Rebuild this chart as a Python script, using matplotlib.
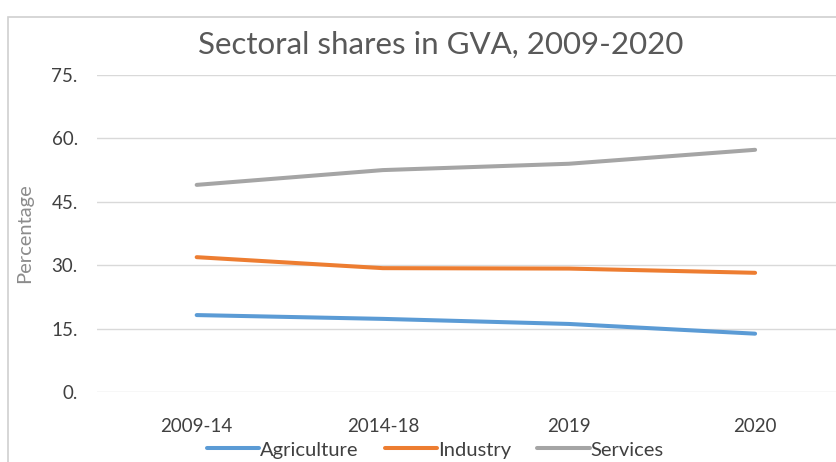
import matplotlib.pyplot as plt
from matplotlib.patches import Rectangle

# data
periods = ['2009-14', '2014-18', '2019', '2020']
agriculture = [18.2, 17.3, 16.1, 13.8]
industry = [31.9, 29.3, 29.2, 28.2]
services = [49.0, 52.5, 54.0, 57.3]
yticks = [0, 15, 30, 45, 60, 75]
ytick_labels = ['0.', '15.', '30.', '45.', '60.', '75.']

plt.rcParams['font.family'] = ['Lato', 'DejaVu Sans']

fig = plt.figure(figsize=(8.37, 4.62), dpi=100)
ax = fig.add_axes([0.116, 0.1515, 0.884, 0.6862])

# chart-area border
fig.patches.append(Rectangle((8 / 837, -0.1), 1.2, 0.963 + 0.1,
                             transform=fig.transFigure, fill=False,
                             edgecolor='#d0d0d0', linewidth=1.2))

x = range(len(periods))
ax.plot(x, agriculture, color='#5B9BD5', lw=2.9, label='Agriculture', solid_capstyle='round')
ax.plot(x, industry, color='#ED7D31', lw=2.9, label='Industry', solid_capstyle='round')
ax.plot(x, services, color='#A5A5A5', lw=2.9, label='Services', solid_capstyle='round')

ax.set_xlim(-0.535, 3.44)
ax.set_ylim(0, 75)
ax.set_xticks(list(x))
ax.set_xticklabels(periods)
ax.set_yticks(yticks)
ax.set_yticklabels(ytick_labels)
ax.tick_params(length=0, labelsize=13.5, labelcolor='#404040', pad=14)
ax.tick_params(axis='x', pad=19)
ax.grid(axis='y', color='#d9d9d9', lw=1)
ax.set_axisbelow(True)
for s in ax.spines.values():
    s.set_visible(False)

ax.set_ylabel('Percentage', color='#8c8c8c', fontsize=14.5, labelpad=2)
ax.yaxis.set_label_coords(-0.0865, 0.5)

fig.text(0.526, 0.903, 'Sectoral shares in GVA, 2009-2020', ha='center', va='center',
         fontsize=22.5, color='#595959')

# legend sits at the very bottom edge, as in the original screenshot
fig.legend(loc='center', bbox_to_anchor=(0.52, 0.026), ncol=3, frameon=False,
           fontsize=14.5, handlelength=2.6, handletextpad=0.05, columnspacing=1.3,
           labelcolor='#404040', borderpad=0)

fig.savefig('out.png', dpi=100)
